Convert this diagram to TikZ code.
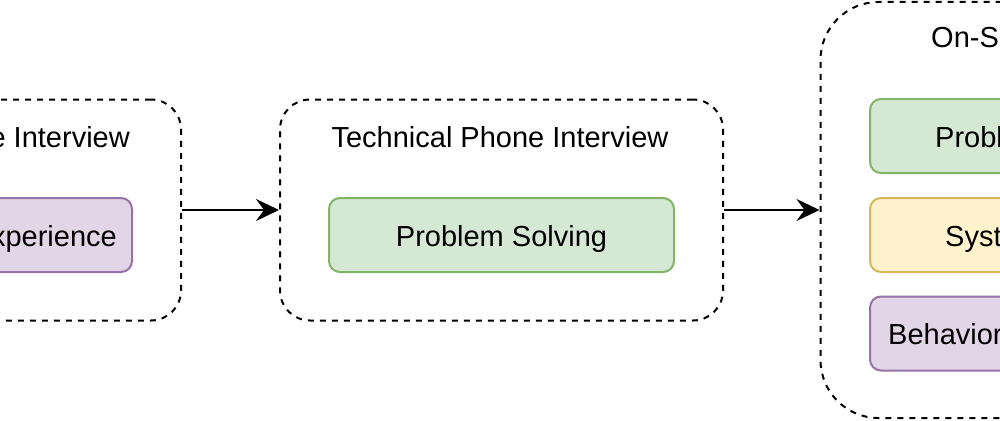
\documentclass[tikz,border=0pt]{standalone}
\usepackage{fontspec}
\setmainfont{Liberation Sans}
\usetikzlibrary{arrows.meta}
\definecolor{gfill}{HTML}{D5E8D4}\definecolor{gline}{HTML}{82B366}
\definecolor{yfill}{HTML}{FFF2CC}\definecolor{yline}{HTML}{D6B656}
\definecolor{pfill}{HTML}{E1D5E7}\definecolor{pline}{HTML}{9673A6}
\begin{document}
\begin{tikzpicture}[x=1pt,y=-1pt,
  stage/.style={draw=black,line width=2pt,dash pattern=on 6pt off 6pt,rounded corners=30pt,
    minimum width=443pt,minimum height=221pt,inner sep=0pt},
  skill/.style={line width=2pt,rounded corners=11pt,minimum width=345pt,minimum height=74pt,inner sep=0pt},
  gbox/.style={skill,draw=gline,fill=gfill},
  ybox/.style={skill,draw=yline,fill=yfill},
  pbox/.style={skill,draw=pline,fill=pfill},
  txt/.style={inner sep=0pt,font=\fontsize{29}{34}\selectfont},
  arr/.style={line width=2pt,-{Stealth[length=23pt,width=22pt,inset=8pt]}}]
\useasboundingbox (0,0) rectangle (1000,420);
\clip (0,0) rectangle (1000,420);
\fill[white] (0,0) rectangle (1000,420);
% stages
\node[stage] (s1) at (-40.5,210) {};
\node[stage] (s2) at (501.5,210) {};
\node[stage,minimum height=416pt,rounded corners=58pt] (s3) at (1042,210) {};
% titles
\node[txt,anchor=base east] (t1) at (130,147) {e Interview};
\node[txt,anchor=base] (t2) at (500,147) {Technical Phone Interview};
\node[txt,anchor=base west] (t3) at (931,48) {On-S};
% skill boxes
\node[pbox] (b1) at (-40.5,235) {};
\node[txt,anchor=base east] (l1) at (117,246) {xperience};
\node[gbox] (b2) at (501.5,235) {};
\node[txt,anchor=base] (l2) at (501.5,246) {Problem Solving};
\node[gbox] (b3) at (1042.5,136) {};
\node[txt,anchor=base west] (l3) at (935,147) {Probl};
\node[ybox] (b4) at (1042.5,235) {};
\node[txt,anchor=base west] (l4) at (945,246) {Syst};
\node[pbox] (b5) at (1042.5,333.5) {};
\node[txt,anchor=base west] (l5) at (888,344.5) {Behavior};
% arrows
\draw[arr] (s1.east) -- (s2.west);
\draw[arr] (s2.east) -- (s3.west);
\end{tikzpicture}
\end{document}
